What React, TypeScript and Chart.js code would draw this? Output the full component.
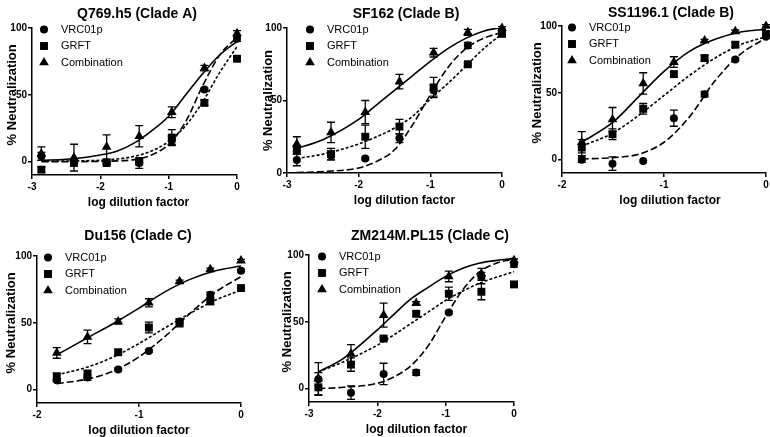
import React, { useEffect, useRef } from 'react';
import Chart from 'chart.js/auto';
import { drawPoint } from 'chart.js/helpers';

const FONT = '"Liberation Sans", Arial, Helvetica, sans-serif';

const seriesNames = ['VRC01p', 'GRFT', 'Combination'];

// log10 of the dilution: 3-fold and 2-fold series
const logX3 = [-2.863, -2.386, -1.908, -1.431, -0.954, -0.477, 0];
const logX2 = [-1.806, -1.505, -1.204, -0.903, -0.602, -0.301, 0];
const fitX3 = [-2.863, -2.5, -2, -1.75, -1.5, -1.25, -1, -0.75, -0.5, -0.25, 0];
const fitX2 = [-1.806, -1.5, -1.25, -1, -0.75, -0.5, -0.25, 0];

// Q769.h5 (Clade A)
const q769Vrc = [4, 0, -1, -1, 16, 54, 92];
const q769VrcErr = [3, 1, 1, 4, 3, 1, 2];
const q769Grft = [-6, -1, -1, 0, 18, 44, 77];
const q769GrftErr = [2, 1, 1, 1, 6, 2, 1];
const q769Combo = [6, 3, 11, 19, 37, 70, 96];
const q769ComboErr = [5, 10, 9, 8, 4, 2, 2];
const q769VrcFit = [0, 0, 0.2, 0.6, 1.5, 5, 13, 30, 57, 80, 93];
const q769GrftFit = [0.3, 0.5, 1, 2, 4, 8, 15, 27, 45, 67, 86];
const q769ComboFit = [1, 1.8, 5, 8, 14, 23, 34, 50, 66, 80, 90];

// SF162 (Clade B)
const sf162Vrc = [9, 12, 10, 24, 57, 88, 97];
const sf162VrcErr = [4, 3, 1, 3, 4, 2, 2];
const sf162Grft = [16, 13, 25, 32, 59, 75, 96];
const sf162GrftErr = [3, 4, 8, 5, 7, 1, 2];
const sf162Combo = [20, 28, 42, 63, 83, 97, 100];
const sf162ComboErr = [5, 7, 8, 5, 3, 2, 1];
const sf162VrcFit = [0.3, 1, 3.5, 8, 16, 33, 54, 73, 86, 93, 97];
const sf162GrftFit = [10, 13, 20, 25, 31, 39, 51, 62, 74, 86, 96];
const sf162ComboFit = [17, 23, 37, 47, 57, 67, 77, 86, 93, 98, 100.5];

// SS1196.1 (Clade B)
const ss1196Vrc = [0, -3, -1, 31, 49, 75, 92];
const ss1196VrcErr = [2, 5, 0, 6, 2, 1, 1];
const ss1196Grft = [9, 19, 38, 64, 76, 86, 94];
const ss1196GrftErr = [6, 4, 4, 2, 2, 2, 2];
const ss1196Combo = [13, 30, 57, 73, 89, 96, 100];
const ss1196ComboErr = [8, 9, 8, 4, 1, 1, 1];
const ss1196VrcFit = [0.5, 1.5, 4, 13, 32, 59, 79, 91];
const ss1196GrftFit = [10, 20, 33, 48, 63, 76, 86, 92];
const ss1196ComboFit = [13, 28, 47, 66, 81, 90, 95.5, 97.5];

// Du156 (Clade C)
const du156Vrc = [7, 9, 15, 29, 51, 71, 89];
const du156VrcErr = [1, 2, 1, 1, 2, 2, 1];
const du156Grft = [9.5, 11.5, 28, 46.5, 50, 66, 76];
const du156GrftErr = [3, 3, 2, 4, 3, 2, 1];
const du156Combo = [27.5, 39.5, 51, 65, 81, 90, 96.5];
const du156ComboErr = [4, 5, 2, 3, 1, 1, 1];
const du156VrcFit = [4.5, 8, 14, 24.5, 39.5, 57, 73, 84.5];
const du156GrftFit = [11, 17, 24.5, 34.5, 46, 57, 67, 74.5];
const du156ComboFit = [26, 39, 49.5, 61, 73, 82.5, 89, 92.5];

// ZM214M.PL15 (Clade C)
const zmVrc = [7, -3, 11, 12, 57, 84, 93];
const zmVrcErr = [5, 5, 8, 2, 1, 3, 2];
const zmGrft = [1, 18, 37.5, 56, 71, 72.5, 78];
const zmGrftErr = [6, 5, 1, 2, 5, 6, 1];
const zmCombo = [7.5, 26, 55, 64, 84, 86, 96];
const zmComboErr = [12, 7, 9, 1, 4, 4, 1];
const zmVrcFit = [0, 1, 4, 9, 17.5, 32.5, 54, 74, 87.5, 94, 97];
const zmGrftFit = [12.5, 20, 32.5, 40.5, 49, 57.5, 66, 73, 79, 83.5, 87.5];
const zmComboFit = [12.5, 22.5, 44, 56, 67.5, 76, 84, 90, 94, 96, 97.5];

const panels = [
  {
    title: 'Q769.h5 (Clade A)', xMin: -3, yMin: -10, x: logX3, fitX: fitX3,
    values: [q769Vrc, q769Grft, q769Combo],
    errors: [q769VrcErr, q769GrftErr, q769ComboErr],
    fits: [q769VrcFit, q769GrftFit, q769ComboFit],
  },
  {
    title: 'SF162 (Clade B)', xMin: -3, yMin: 0, x: logX3, fitX: fitX3,
    values: [sf162Vrc, sf162Grft, sf162Combo],
    errors: [sf162VrcErr, sf162GrftErr, sf162ComboErr],
    fits: [sf162VrcFit, sf162GrftFit, sf162ComboFit],
  },
  {
    title: 'SS1196.1 (Clade B)', xMin: -2, yMin: -10, x: logX2, fitX: fitX2,
    values: [ss1196Vrc, ss1196Grft, ss1196Combo],
    errors: [ss1196VrcErr, ss1196GrftErr, ss1196ComboErr],
    fits: [ss1196VrcFit, ss1196GrftFit, ss1196ComboFit],
  },
  {
    title: 'Du156 (Clade C)', xMin: -2, yMin: -10, x: logX2, fitX: fitX2,
    values: [du156Vrc, du156Grft, du156Combo],
    errors: [du156VrcErr, du156GrftErr, du156ComboErr],
    fits: [du156VrcFit, du156GrftFit, du156ComboFit],
  },
  {
    title: 'ZM214M.PL15 (Clade C)', xMin: -3, yMin: -10, x: logX3, fitX: fitX3,
    values: [zmVrc, zmGrft, zmCombo],
    errors: [zmVrcErr, zmGrftErr, zmComboErr],
    fits: [zmVrcFit, zmGrftFit, zmComboFit],
  },
];

// page positions of each plot area and its texts
const layouts = [
  { l: 32, r: 237, t: 28, b: 175, titleX: 137, titleY: 14, yTitleDx: -20, xTitleDx: 4, legendDx: 12 },
  { l: 287, r: 502, t: 28, b: 173, titleX: 406, titleY: 14, yTitleDx: -19, xTitleDx: 10, legendDx: 23 },
  { l: 562, r: 766, t: 26, b: 173, titleX: 671, titleY: 13, yTitleDx: -25, xTitleDx: 6, legendDx: 10 },
  { l: 37, r: 241, t: 256, b: 403, titleX: 138, titleY: 236, yTitleDx: -26, xTitleDx: 0, legendDx: 11 },
  { l: 309, r: 514, t: 255, b: 402, titleX: 430, titleY: 236, yTitleDx: -22, xTitleDx: 5, legendDx: 13 },
];

const Y_W = 40;
const TOP = 34;
const X_H = 36;
const PAD_R = 12;

const markerStyles = ['circle', 'rect', 'triangle'];
const markerRadius = [4, 5.6, 5.6];
const dashes = [[7, 3], [3, 2], []];

const errorBarPlugin = {
  id: 'errorBars',
  beforeDatasetsDraw(chart: any) {
    const { ctx, scales } = chart;
    ctx.save();
    ctx.strokeStyle = '#000';
    ctx.lineWidth = 1.3;
    chart.data.datasets.forEach((ds: any) => {
      if (!ds.errors) return;
      ds.data.forEach((pt: any, j: number) => {
        const e = ds.errors[j];
        if (!e) return;
        const px = scales.x.getPixelForValue(pt.x);
        const top = scales.y.getPixelForValue(pt.y + e);
        const bot = scales.y.getPixelForValue(pt.y - e);
        ctx.beginPath();
        ctx.moveTo(px, top);
        ctx.lineTo(px, bot);
        ctx.moveTo(px - 4, top);
        ctx.lineTo(px + 4, top);
        ctx.moveTo(px - 4, bot);
        ctx.lineTo(px + 4, bot);
        ctx.stroke();
      });
    });
    ctx.restore();
  },
};

const panelTextPlugin = {
  id: 'panelText',
  afterDraw(chart: any, _args: any, opts: any) {
    const { ctx, chartArea, scales } = chart;
    ctx.save();
    ctx.fillStyle = '#000';
    ctx.textBaseline = 'middle';

    // legend in the top left of the plot
    ctx.font = `11px ${FONT}`;
    ctx.textAlign = 'left';
    chart.data.datasets.forEach((ds: any, i: number) => {
      if (!ds.errors) return;
      const cx = chartArea.left + opts.legendDx;
      const cy = chartArea.top + 1.5 + i * 16.5;
      drawPoint(ctx, { pointStyle: ds.pointStyle, radius: ds.pointRadius, borderWidth: 0, rotation: 0 }, cx, cy);
      ctx.fillText(ds.label, cx + 17, cy);
    });

    ctx.textAlign = 'center';
    ctx.font = `bold 14px ${FONT}`;
    ctx.fillText(opts.title, opts.titleX, opts.titleY);

    ctx.font = `bold 12px ${FONT}`;
    ctx.fillText('log dilution factor', (chartArea.left + chartArea.right) / 2 + opts.xTitleDx, chartArea.bottom + 27.5);

    const midY = (scales.y.getPixelForValue(0) + scales.y.getPixelForValue(100)) / 2;
    ctx.translate(chartArea.left + opts.yTitleDx, midY);
    ctx.rotate(-Math.PI / 2);
    ctx.font = `bold 13px ${FONT}`;
    ctx.fillText('% Neutralization', 0, 0);
    ctx.restore();
  },
};

function Panel({ index }: { index: number }) {
  const canvasRef = useRef<HTMLCanvasElement>(null);
  const panel = panels[index];
  const lay = layouts[index];
  const left = lay.l - Y_W;
  const top = lay.t - TOP;
  const width = lay.r - lay.l + Y_W + PAD_R;
  const height = lay.b - lay.t + TOP + X_H;

  useEffect(() => {
    if (!canvasRef.current) return;
    Chart.defaults.font.family = FONT;

    const axisCommon = {
      type: 'linear' as const,
      grid: { drawOnChartArea: false, drawTicks: true, tickLength: 4, color: '#000', lineWidth: 1.5 },
      border: { display: true, color: '#000', width: 1.5 },
    };

    const chart = new Chart(canvasRef.current, {
      type: 'scatter',
      data: {
        datasets: [
          ...panel.values.map((vals, i) => ({
            label: seriesNames[i],
            data: vals.map((y, j) => ({ x: panel.x[j], y })),
            errors: panel.errors[i],
            pointStyle: markerStyles[i],
            pointRadius: markerRadius[i],
            backgroundColor: '#000',
            borderColor: '#000',
            borderWidth: 0,
            showLine: false,
            clip: false,
          })),
          ...panel.fits.map((vals, i) => ({
            label: seriesNames[i] + ' fit',
            data: vals.map((y, j) => ({ x: panel.fitX[j], y })),
            showLine: true,
            pointRadius: 0,
            borderColor: '#000',
            borderWidth: 1.6,
            borderDash: dashes[i],
            cubicInterpolationMode: 'monotone',
            fill: false,
          })),
        ] as any,
      },
      options: {
        animation: false,
        responsive: true,
        maintainAspectRatio: false,
        layout: { padding: { left: 0, top: TOP, right: PAD_R, bottom: 0 } },
        plugins: {
          legend: { display: false },
          tooltip: { enabled: false },
          title: { display: false },
          panelText: {
            title: panel.title,
            titleX: lay.titleX - left,
            titleY: lay.titleY - top,
            yTitleDx: lay.yTitleDx,
            xTitleDx: lay.xTitleDx,
            legendDx: lay.legendDx,
          },
        } as any,
        scales: {
          x: {
            ...axisCommon,
            min: panel.xMin,
            max: 0,
            ticks: { stepSize: 1, color: '#000', padding: 2.5, font: { size: 10, weight: 'bold' } },
            afterFit: (scale: any) => { scale.height = X_H; },
          },
          y: {
            ...axisCommon,
            min: panel.yMin,
            max: 100,
            ticks: { color: '#000', padding: 1, font: { size: 10, weight: 'bold' } },
            afterBuildTicks: (scale: any) => { scale.ticks = [0, 50, 100].map((value) => ({ value })); },
            afterFit: (scale: any) => { scale.width = Y_W; },
          },
        } as any,
      },
      plugins: [errorBarPlugin, panelTextPlugin],
    });

    return () => chart.destroy();
  }, [index]);

  return (
    <div style={{ position: 'absolute', left, top, width, height }}>
      <canvas ref={canvasRef}></canvas>
    </div>
  );
}

export default function App() {
  return (
    <div style={{ position: 'absolute', left: 0, top: 0, width: 770, height: 437, overflow: 'hidden', background: '#fff' }}>
      {panels.map((_, i) => (
        <Panel key={i} index={i} />
      ))}
    </div>
  );
}
